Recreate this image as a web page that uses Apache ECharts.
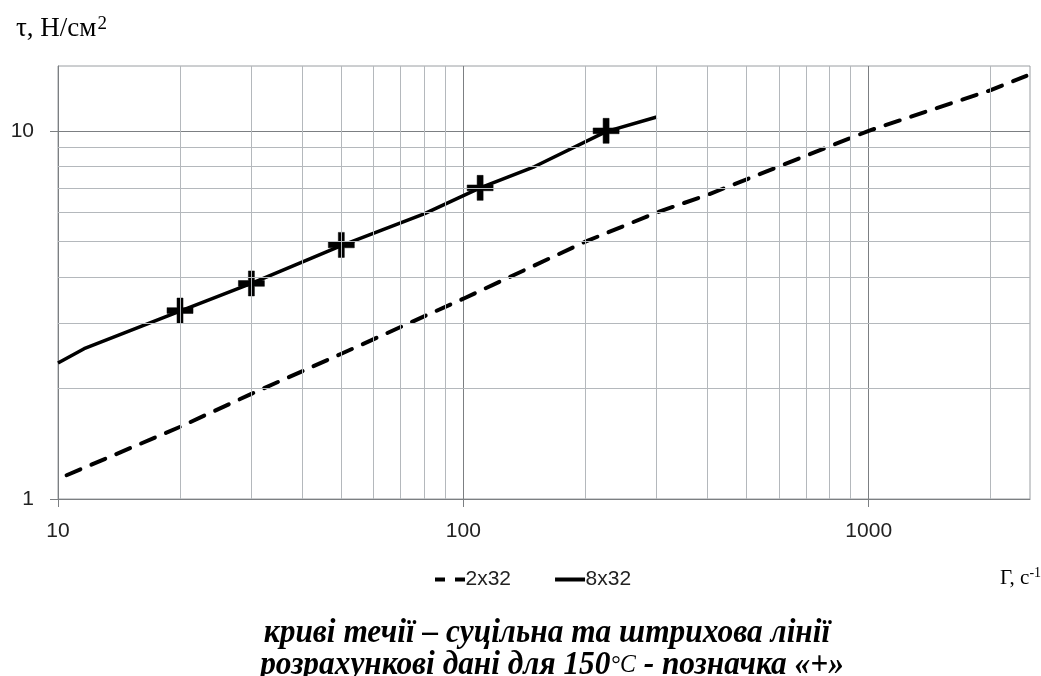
<!DOCTYPE html>
<html><head><meta charset="utf-8">
<script src="https://cdn.jsdelivr.net/npm/echarts@6/dist/echarts.min.js"></script>
<style>html,body{margin:0;padding:0;background:#fff}#c{width:1041px;height:676px}</style>
</head><body><div id="c"></div>
<script>
// Flow curves (shear rate Γ, s^-1  vs  shear stress τ, N/cm²)
const shearRate2x32 = [10.5, 20, 30, 50, 100, 200, 300, 400, 1000, 2000, 2450];
const stress2x32    = [1.16, 1.57, 1.93, 2.48, 3.5, 5.0, 6.0, 6.7, 10, 12.9, 14.1];
const shearRate8x32 = [10, 11.6, 20, 30, 50, 80, 110, 150, 225, 300];
const stress8x32    = [2.34, 2.56, 3.24, 3.85, 4.88, 5.95, 7.0, 8.0, 9.95, 10.9];
// calculated data for 150°C ("+")
const calcShearRate = [20, 30, 50, 110, 225];
const calcStress    = [3.25, 3.85, 4.9, 7.0, 10.0];
// grid / tick values of the log-log paper
const xMajorTicks = [10, 100, 1000];
const yMajorTicks = [1, 10];
const xMinorGrid = [20, 30, 40, 50, 60, 70, 80, 90, 200, 300, 400, 500, 600, 700, 800, 900, 2000];
const yMinorGrid = [2, 3, 4, 5, 6, 7, 8, 9];

const zip = (a, b) => a.map((v, i) => [v, b[i]]);
const plusPath = 'path://M10,0L16,0L16,10L26,10L26,16L16,16L16,26L10,26L10,16L0,16L0,10L10,10Z';
const dashedIcon = 'path://M0,0L10,0L10,4L0,4Z M20,0L30,0L30,4L20,4Z';
const solidIcon = 'path://M0,0L30,0L30,4L0,4Z';
const tickFont = 'Liberation Sans';
const serif = 'Liberation Serif';
const axisGrey = '#7c7f82';

const chart = echarts.init(document.getElementById('c'));
chart.setOption({
  animation: false,
  backgroundColor: '#fff',
  grid: { left: 58, right: 11, top: 66, bottom: 177, show: true, borderColor: '#9a9ea2', borderWidth: 1 },
  xAxis: {
    type: 'log', logBase: 10, min: 10, max: 2500,
    axisLine: { show: true, lineStyle: { color: axisGrey, width: 1 } },
    axisTick: { show: true, length: 8, customValues: xMajorTicks, lineStyle: { color: axisGrey } },
    splitLine: { show: true, lineStyle: { color: axisGrey, width: 1 } },
    axisLabel: { margin: 22, color: '#222', fontSize: 21, fontFamily: tickFont,
      customValues: xMajorTicks, formatter: v => String(Math.round(v)) }
  },
  yAxis: {
    type: 'log', logBase: 10, min: 1, max: 15,
    axisLine: { show: true, lineStyle: { color: axisGrey, width: 1 } },
    axisTick: { show: true, length: 8, customValues: yMajorTicks, lineStyle: { color: axisGrey } },
    splitLine: { show: true, lineStyle: { color: axisGrey, width: 1 } },
    axisLabel: { margin: 24, color: '#222', fontSize: 21, fontFamily: tickFont,
      customValues: yMajorTicks, formatter: v => String(Math.round(v)) }
  },
  legend: {
    data: [
      { name: '2x32', icon: dashedIcon, itemStyle: { color: '#000', borderWidth: 0 } },
      { name: '8x32', icon: solidIcon, itemStyle: { color: '#000', borderWidth: 0 } }
    ],
    top: 564, left: 430, itemWidth: 31, itemHeight: 4, itemGap: 44,
    textStyle: { color: '#222', fontSize: 21, fontFamily: tickFont, padding: [0, 0, 0, -5] }
  },
  series: [
    {
      name: 'grid', type: 'line', data: [], silent: true, z: 1,
      markLine: {
        silent: true, symbol: ['none', 'none'], label: { show: false },
        lineStyle: { color: '#b4b8bc', width: 1, type: 'solid' },
        emphasis: { disabled: true },
        data: xMinorGrid.map(v => ({ xAxis: v })).concat(yMinorGrid.map(v => ({ yAxis: v })))
      }
    },
    {
      name: '2x32', type: 'line', data: zip(shearRate2x32, stress2x32), symbol: 'none', z: 3,
      lineStyle: { color: '#000', width: 4, type: [15, 12], cap: 'round' }, itemStyle: { color: '#000' }
    },
    {
      name: '8x32', type: 'line', data: zip(shearRate8x32, stress8x32), symbol: 'none', z: 3,
      lineStyle: { color: '#000', width: 3.5, type: 'solid' }, itemStyle: { color: '#000' }
    },
    {
      name: '150°C', type: 'scatter', data: zip(calcShearRate, calcStress), z: 4,
      symbol: plusPath, symbolSize: [26, 25], itemStyle: { color: '#000', borderColor: '#000', borderWidth: 0.5, opacity: 1 }
    }
  ],
  graphic: [
    { type: 'text', left: 16, top: 15, style: {
        text: '{m|τ, Н/см}{s|2}',
        rich: {
          m: { fontFamily: serif, fontSize: 27, color: '#000', fill: '#000' },
          s: { fontFamily: serif, fontSize: 19, color: '#000', fill: '#000', padding: [0, 0, 9, 1] }
        } } },
    { type: 'text', left: 1000, top: 566, style: {
        text: '{m|Γ, с}{s|-1}',
        rich: {
          m: { fontFamily: serif, fontSize: 21, color: '#000', fill: '#000' },
          s: { fontFamily: serif, fontSize: 14, color: '#000', fill: '#000', padding: [0, 0, 10, 0] }
        } } },
    { type: 'text', x: 547, y: 617, scaleX: 0.95, style: {
        text: 'криві течії – суцільна та штрихова лінії',
        font: 'italic bold 33px "Liberation Serif"', fill: '#000', align: 'center', verticalAlign: 'top' } },
    { type: 'text', x: 552, y: 649, scaleX: 0.95, style: {
        text: '{a|розрахункові дані для 150}{b|°C}{a| - позначка «+»}',
        align: 'center', verticalAlign: 'top',
        rich: {
          a: { fontFamily: serif, fontStyle: 'italic', fontWeight: 'bold', fontSize: 33, fill: '#000', color: '#000' },
          b: { fontFamily: serif, fontStyle: 'italic', fontWeight: 'normal', fontSize: 25, fill: '#000', color: '#000' }
        } } }
  ]
});
</script>
</body></html>
